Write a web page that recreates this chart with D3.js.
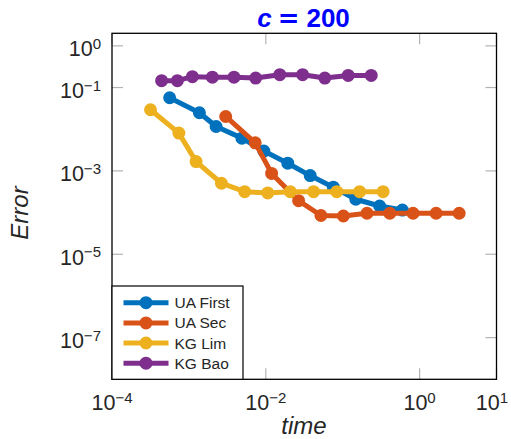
<!DOCTYPE html>
<html>
<head>
<meta charset="utf-8">
<script src="https://cdn.jsdelivr.net/npm/d3@7"></script>
<style>
  html, body { margin: 0; padding: 0; background: #fff; }
  svg { display: block; }
  text { font-family: "Liberation Sans", Arial, Helvetica, sans-serif; }
</style>
</head>
<body>
<svg id="chart" width="511" height="439"></svg>
<script>
// Error vs. run time for the four schemes, c = 200
const seriesNames = ["UA First", "UA Sec", "KG Lim", "KG Bao"];
const seriesColors = ["#0072BD", "#D95319", "#EDB120", "#7E2F8E"];

const uaFirstTime = [5.62e-4, 1.37e-3, 2.26e-3, 4.89e-3, 9.42e-3, 1.93e-2, 3.78e-2, 7.55e-2, 0.148, 0.302, 0.597];
const uaFirstErr  = [5.69e-2, 2.48e-2, 1.16e-2, 6.11e-3, 2.99e-3, 1.53e-3, 7.71e-4, 4.06e-4, 2.09e-4, 1.44e-4, 1.15e-4];

const uaSecTime = [3.01e-3, 7.28e-3, 1.19e-2, 2.67e-2, 5.21e-2, 0.102, 0.207, 0.410, 0.822, 1.64, 3.27];
const uaSecErr  = [2.02e-2, 4.71e-3, 8.71e-4, 1.93e-4, 8.51e-5, 8.28e-5, 9.62e-5, 9.62e-5, 9.62e-5, 9.62e-5, 9.62e-5];

const kgLimTime = [3.17e-4, 7.41e-4, 1.24e-3, 2.65e-3, 5.31e-3, 1.06e-2, 2.08e-2, 4.18e-2, 8.37e-2, 0.166, 0.335];
const kgLimErr  = [2.93e-2, 8.06e-3, 1.67e-3, 5.06e-4, 3.18e-4, 2.96e-4, 3.18e-4, 3.18e-4, 3.18e-4, 3.18e-4, 3.18e-4];

const kgBaoTime = [4.42e-4, 7.08e-4, 1.11e-3, 2.02e-3, 3.86e-3, 7.38e-3, 1.52e-2, 3.01e-2, 5.86e-2, 0.118, 0.235];
const kgBaoErr  = [0.146, 0.146, 0.182, 0.177, 0.177, 0.169, 0.203, 0.203, 0.169, 0.195, 0.195];

const xTickExps = [-4, -2, 0, 1];
const yTickExps = [0, -1, -3, -5, -7];

const titleParts = ["c", "=", "200"];
const xLabel = "time";
const yLabel = "Error";

const seriesTimes = [uaFirstTime, uaSecTime, kgLimTime, kgBaoTime];
const seriesErrs = [uaFirstErr, uaSecErr, kgLimErr, kgBaoErr];
const series = seriesNames.map((name, i) => ({
  name,
  color: seriesColors[i],
  points: seriesTimes[i].map((t, j) => ({ t, e: seriesErrs[i][j] }))
}));

const svg = d3.select("#chart");
const plot = { left: 112, right: 496.5, top: 33.3, bottom: 379.3 };

const x = d3.scaleLog().domain([1e-4, 10]).range([plot.left, plot.right]);
const y = d3.scaleLog().domain([1e-8, 2]).range([plot.bottom, plot.top]);

const tickLen = 11;
const tickColor = "#b3b3b3";
const textColor = "#262626";

// tick marks, inward on all four sides
const ticks = svg.append("g");
xTickExps.forEach(p => {
  const px = x(Math.pow(10, p));
  ticks.append("line").attr("x1", px).attr("x2", px)
    .attr("y1", plot.bottom).attr("y2", plot.bottom - tickLen)
    .attr("stroke", tickColor).attr("stroke-width", 1.2);
  ticks.append("line").attr("x1", px).attr("x2", px)
    .attr("y1", plot.top).attr("y2", plot.top + tickLen)
    .attr("stroke", tickColor).attr("stroke-width", 1.2);
});
yTickExps.forEach(p => {
  const py = y(Math.pow(10, p));
  ticks.append("line").attr("x1", plot.left).attr("x2", plot.left + tickLen)
    .attr("y1", py).attr("y2", py)
    .attr("stroke", tickColor).attr("stroke-width", 1.2);
  ticks.append("line").attr("x1", plot.right).attr("x2", plot.right - tickLen)
    .attr("y1", py).attr("y2", py)
    .attr("stroke", tickColor).attr("stroke-width", 1.2);
});

// power-of-ten tick label: "10" with a raised exponent
function powLabel(sel, p) {
  sel.append("tspan").text("10");
  sel.append("tspan")
    .attr("dy", "-0.5em")
    .attr("font-size", "0.7em")
    .text(p < 0 ? "\u2212" + Math.abs(p) : String(p));
}

const tickFont = 21.5;
xTickExps.forEach(p => {
  const t = svg.append("text")
    .attr("x", Math.min(x(Math.pow(10, p)), 492))
    .attr("y", plot.bottom + 31)
    .attr("text-anchor", "middle")
    .attr("font-size", tickFont)
    .attr("fill", textColor);
  powLabel(t, p);
});
yTickExps.forEach(p => {
  const t = svg.append("text")
    .attr("x", plot.left - 11)
    .attr("y", y(Math.pow(10, p)) + 10.5)
    .attr("text-anchor", "end")
    .attr("font-size", tickFont)
    .attr("fill", textColor);
  powLabel(t, p);
});

// data lines and open circle markers
const line = d3.line().x(d => x(d.t)).y(d => y(d.e));
const marks = svg.append("g");
series.forEach(s => {
  const g = marks.append("g");
  g.append("path")
    .datum(s.points)
    .attr("d", line)
    .attr("fill", "none")
    .attr("stroke", s.color)
    .attr("stroke-width", 5)
    .attr("stroke-linejoin", "round")
    .attr("stroke-linecap", "round");
  g.selectAll("circle")
    .data(s.points)
    .join("circle")
    .attr("cx", d => x(d.t))
    .attr("cy", d => y(d.e))
    .attr("r", 3.8)
    .attr("fill", "none")
    .attr("stroke", s.color)
    .attr("stroke-width", 5.4);
});

// axes box
svg.append("rect")
  .attr("x", plot.left).attr("y", plot.top)
  .attr("width", plot.right - plot.left)
  .attr("height", plot.bottom - plot.top)
  .attr("fill", "none")
  .attr("stroke", "#000")
  .attr("stroke-width", 1.3);

// legend
const leg = { x: 112, y: 286, w: 131, h: 93.3 };
const legend = svg.append("g");
legend.append("rect")
  .attr("x", leg.x).attr("y", leg.y)
  .attr("width", leg.w).attr("height", leg.h)
  .attr("fill", "#fff")
  .attr("stroke", "#000")
  .attr("stroke-width", 1.2);
const rowY = [302.7, 322.9, 343.0, 363.2];
series.forEach((s, i) => {
  const ry = rowY[i];
  legend.append("line")
    .attr("x1", 123.5).attr("x2", 168.5)
    .attr("y1", ry).attr("y2", ry)
    .attr("stroke", s.color).attr("stroke-width", 5);
  legend.append("circle")
    .attr("cx", 146).attr("cy", ry).attr("r", 3.8)
    .attr("fill", "none")
    .attr("stroke", s.color).attr("stroke-width", 5.4);
  legend.append("text")
    .attr("x", 174.5).attr("y", ry + 5.5)
    .attr("font-size", 15.5)
    .attr("fill", textColor)
    .text(s.name);
});

// axis labels
svg.append("text")
  .attr("x", 304).attr("y", 434)
  .attr("text-anchor", "middle")
  .attr("font-size", 24)
  .attr("font-style", "italic")
  .attr("fill", textColor)
  .text(xLabel);
svg.append("text")
  .attr("transform", "translate(28,213) rotate(-90)")
  .attr("text-anchor", "middle")
  .attr("font-size", 24)
  .attr("font-style", "italic")
  .attr("fill", textColor)
  .text(yLabel);

// title
const title = svg.append("text")
  .attr("x", 303.5).attr("y", 27)
  .attr("text-anchor", "middle")
  .attr("font-size", 26)
  .attr("font-weight", "bold")
  .attr("fill", "#0000ff");
title.append("tspan").attr("font-style", "italic").text(titleParts[0]);
title.append("tspan").attr("dx", 6)
  .attr("font-family", "DejaVu Sans").text(titleParts[1]);
title.append("tspan").attr("dx", 7).text(titleParts[2]);
</script>
</body>
</html>
